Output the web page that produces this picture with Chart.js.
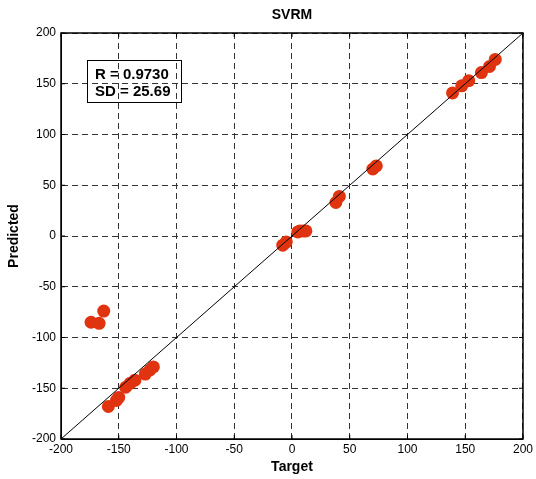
<!DOCTYPE html>
<html>
<head>
<meta charset="utf-8">
<script src="https://cdn.jsdelivr.net/npm/chart.js@4"></script>
<style>
  html, body { margin: 0; padding: 0; background: #fff; }
  #wrap { width: 536px; height: 479px; }
</style>
</head>
<body>
<div id="wrap"><canvas id="svrmChart" width="536" height="479"></canvas></div>
<script>
// target / predicted pairs
const targetVals = [-174, -167, -163, -159, -152, -150, -144, -140, -136, -127, -123, -120,
                    -8, -5, 5, 7, 10, 12, 38, 41, 70, 73,
                    139, 147, 153, 164, 171, 176];
const predictedVals = [-85, -86, -74, -168, -162, -159, -149, -145, -142, -136, -132, -129,
                       -9, -6, 4, 5, 5, 5, 33, 39, 66, 69,
                       141, 148, 153, 161, 167, 174];
const fitLine = [[-200, -200], [200, 200]];
const axisTicks = [-200, -150, -100, -50, 0, 50, 100, 150, 200];
const statLines = ['R = 0.9730', 'SD = 25.69'];

const points = targetVals.map((t, i) => ({ x: t, y: predictedVals[i] }));

const frame = {
    id: 'frame',
    afterDraw(chart) {
        const { ctx, chartArea: a } = chart;
        const xs = chart.scales.x, ys = chart.scales.y;
        ctx.save();
        ctx.strokeStyle = '#000';
        ctx.lineWidth = 1.5;
        ctx.strokeRect(a.left, a.top, a.right - a.left, a.bottom - a.top);
        // small inward tick marks on all sides
        ctx.lineWidth = 1;
        axisTicks.forEach(v => {
            const px = xs.getPixelForValue(v);
            const py = ys.getPixelForValue(v);
            ctx.beginPath();
            ctx.moveTo(px, a.bottom); ctx.lineTo(px, a.bottom - 4);
            ctx.moveTo(px, a.top); ctx.lineTo(px, a.top + 4);
            ctx.moveTo(a.left, py); ctx.lineTo(a.left + 4, py);
            ctx.moveTo(a.right, py); ctx.lineTo(a.right - 4, py);
            ctx.stroke();
        });
        // stats box
        ctx.lineWidth = 1;
        ctx.strokeRect(87.5, 60.5, 94, 42);
        ctx.fillStyle = '#000';
        ctx.font = 'bold 15px "Liberation Sans", Arial, sans-serif';
        ctx.textBaseline = 'middle';
        ctx.fillText(statLines[0], 95, 75);
        ctx.fillText(statLines[1], 95, 92);
        ctx.restore();
    }
};

const font = { family: '"Liberation Sans", Arial, sans-serif', size: 12 };

new Chart(document.getElementById('svrmChart'), {
    type: 'scatter',
    data: {
        datasets: [{
            label: 'Fit',
            type: 'line',
            data: fitLine.map(p => ({ x: p[0], y: p[1] })),
            borderColor: '#000',
            borderWidth: 1,
            pointRadius: 0,
            fill: false
        }, {
            label: 'SVRM',
            data: points,
            backgroundColor: '#e0330f',
            borderColor: '#e0330f',
            borderWidth: 0,
            pointRadius: 6.5
        }]
    },
    options: {
        responsive: false,
        animation: false,
        layout: { padding: { left: 0, right: 13, top: 0, bottom: 0 } },
        plugins: {
            legend: { display: false },
            tooltip: { enabled: false },
            title: {
                display: true,
                fullSize: false,
                text: 'SVRM',
                color: '#000',
                font: { family: font.family, size: 14, weight: 'bold', lineHeight: 1 },
                padding: { top: 8, bottom: 11 }
            }
        },
        scales: {
            x: {
                type: 'linear',
                min: -200, max: 200,
                afterFit: s => { s.height = 40; },
                afterBuildTicks: s => { s.ticks = axisTicks.map(v => ({ value: v })); },
                grid: { color: '#333', lineWidth: 1, drawTicks: false },
                border: { dash: [6, 4], color: '#000' },
                ticks: { color: '#000', font: font, padding: 3, maxRotation: 0 },
                title: {
                    display: true, text: 'Target', color: '#000',
                    font: { family: font.family, size: 14, weight: 'bold' },
                    padding: { top: 0, bottom: 3 }
                }
            },
            y: {
                type: 'linear',
                min: -200, max: 200,
                afterFit: s => { s.width = 61; },
                afterBuildTicks: s => { s.ticks = axisTicks.map(v => ({ value: v })); },
                grid: { color: '#333', lineWidth: 1, drawTicks: false },
                border: { dash: [6, 4], color: '#000' },
                ticks: { color: '#000', font: font, padding: 5 },
                title: {
                    display: true, text: 'Predicted', color: '#000',
                    font: { family: font.family, size: 14, weight: 'bold' },
                    padding: { top: 6, bottom: 0 }
                }
            }
        }
    },
    plugins: [frame]
});
</script>
</body>
</html>
